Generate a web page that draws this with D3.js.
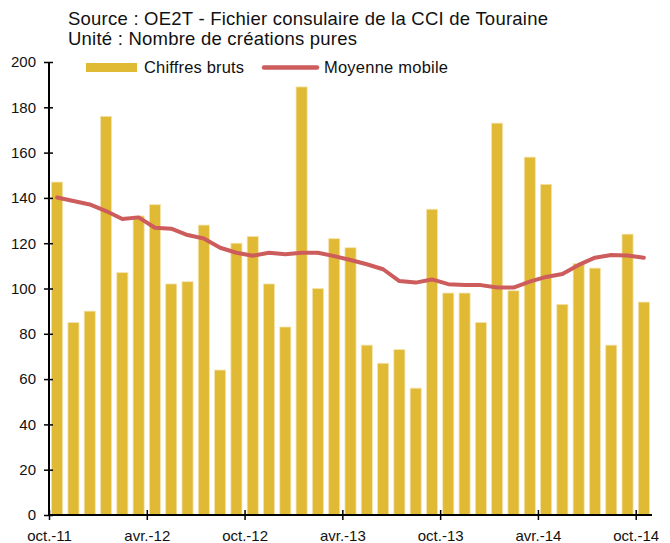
<!DOCTYPE html>
<html>
<head>
<meta charset="utf-8">
<script src="https://cdn.jsdelivr.net/npm/d3@7"></script>
<style>
  body { margin: 0; background: #fff; }
  svg { display: block; font-family: "Liberation Sans", Arial, sans-serif; }
</style>
</head>
<body>
<svg id="chart" width="670" height="543"></svg>
<script>
const months = [
  'oct.-11', 'nov.-11', 'déc.-11', 'janv.-12', 'févr.-12', 'mars-12', 'avr.-12', 'mai-12', 'juin-12',
  'juil.-12', 'août-12', 'sept.-12', 'oct.-12', 'nov.-12', 'déc.-12', 'janv.-13', 'févr.-13', 'mars-13',
  'avr.-13', 'mai-13', 'juin-13', 'juil.-13', 'août-13', 'sept.-13', 'oct.-13', 'nov.-13', 'déc.-13',
  'janv.-14', 'févr.-14', 'mars-14', 'avr.-14', 'mai-14', 'juin-14', 'juil.-14', 'août-14', 'sept.-14', 'oct.-14'
]
const chiffresBruts = [
  147, 85, 90, 176, 107, 132, 137, 102, 103, 128, 64, 120, 123, 102, 83, 189, 100, 122, 118,
  75, 67, 73, 56, 135, 98, 98, 85, 173, 99, 158, 146, 93, 111, 109, 75, 124, 94
]
const moyenneMobile = [
  140.2, 138.6, 137.1, 134.2, 130.7, 131.4, 126.8, 126.4, 123.6, 122.1, 118, 115.8, 114.5,
  115.8, 115.1, 115.8, 115.8, 114.3, 112.6, 110.7, 108.5, 103.3, 102.6, 104, 101.9,
  101.5, 101.5, 100.4, 100.4, 103, 105.1, 106.4, 110.4, 113.6, 114.8, 114.6, 113.6
]
const tickIndex = [0, 6, 12, 18, 24, 30, 36]
const tickLabels = ['oct.-11', 'avr.-12', 'oct.-12', 'avr.-13', 'oct.-13', 'avr.-14', 'oct.-14']
const yTicks = [0, 20, 40, 60, 80, 100, 120, 140, 160, 180, 200]

const svg = d3.select('#chart')
const plotLeft = 49, plotRight = 652, plotTop = 62, plotBottom = 515

const x = d3.scaleBand()
  .domain(months)
  .range([plotLeft, plotRight])
  .paddingInner(0.32)
  .paddingOuter(0.16)
// month index -> left edge of its band, used for the axis ticks
const xEdge = d3.scaleLinear().domain([0, months.length]).range([plotLeft, plotRight])
const y = d3.scaleLinear().domain([0, 200]).range([plotBottom, plotTop])

// Header text
const header = svg.append('g').attr('fill', '#111').attr('font-size', 18.5)
header.append('text').attr('x', 68).attr('y', 25)
  .attr('textLength', 480)
  .text('Source : OE2T - Fichier consulaire de la CCI de Touraine')
header.append('text').attr('x', 68).attr('y', 45)
  .attr('textLength', 289)
  .text('Unité : Nombre de créations pures')

// Bars
svg.append('g')
  .selectAll('rect')
  .data(chiffresBruts)
  .join('rect')
  .attr('x', (d, i) => x(months[i]))
  .attr('width', x.bandwidth())
  .attr('y', d => y(d))
  .attr('height', d => y(0) - y(d))
  .attr('fill', '#e0b935')
  .attr('stroke', '#f3e4b0')
  .attr('stroke-width', 0.8)

// Moving average
const line = d3.line()
  .x((d, i) => x(months[i]) + x.bandwidth() / 2)
  .y(d => y(d))
svg.append('path')
  .datum(moyenneMobile)
  .attr('d', line)
  .attr('fill', 'none')
  .attr('stroke', '#cd5c5c')
  .attr('stroke-width', 4)
  .attr('stroke-linejoin', 'round')
  .attr('stroke-linecap', 'round')

// Y axis
const yAxis = svg.append('g')
  .attr('transform', `translate(${plotLeft},0)`)
  .call(d3.axisLeft(y).tickValues(yTicks).tickSize(5).tickPadding(8))
yAxis.select('.domain').attr('stroke', '#000').attr('stroke-width', 2)
  .attr('d', `M0,${plotBottom}V${plotTop}`)
yAxis.selectAll('.tick line').attr('x1', -5).attr('x2', 4).attr('stroke', '#000').attr('stroke-width', 1.5)
yAxis.selectAll('.tick text').attr('font-size', 15).attr('fill', '#111')
  .attr('font-family', '"Liberation Sans", Arial, sans-serif')

// X axis
const xAxis = svg.append('g')
  .attr('transform', `translate(0,${plotBottom})`)
  .call(d3.axisBottom(xEdge).tickValues(tickIndex)
    .tickFormat((d, i) => tickLabels[i]).tickSize(5).tickPadding(10))
xAxis.select('.domain').attr('stroke', '#000').attr('stroke-width', 2)
  .attr('d', `M${plotLeft - 1},0H${plotRight}`)
xAxis.selectAll('.tick line').attr('y1', -5).attr('y2', 5).attr('stroke', '#000').attr('stroke-width', 1.5)
xAxis.selectAll('.tick text').attr('font-size', 15).attr('fill', '#111')
  .attr('font-family', '"Liberation Sans", Arial, sans-serif')

// Legend
const legend = svg.append('g').attr('font-size', 16.5).attr('fill', '#111')
legend.append('rect').attr('x', 86).attr('y', 63).attr('width', 51).attr('height', 9)
  .attr('fill', '#e0b935')
legend.append('text').attr('x', 144).attr('y', 73).attr('textLength', 100).text('Chiffres bruts')
legend.append('line').attr('x1', 264).attr('x2', 317).attr('y1', 67.5).attr('y2', 67.5)
  .attr('stroke', '#cd5c5c').attr('stroke-width', 4.5).attr('stroke-linecap', 'round')
legend.append('text').attr('x', 324).attr('y', 73).attr('textLength', 124).text('Moyenne mobile')
</script>
</body>
</html>
